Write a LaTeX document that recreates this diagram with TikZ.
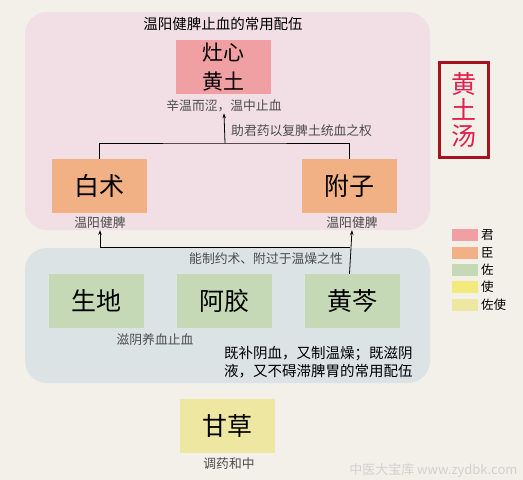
\documentclass[tikz,border=0pt]{standalone}
\usepackage{fontspec}
\setmainfont{Noto Sans CJK SC}
\usetikzlibrary{positioning,arrows.meta}

\definecolor{bgpaper}{HTML}{F3F0EA}
\definecolor{pinkzone}{HTML}{F1DFE5}
\definecolor{bluezone}{HTML}{DCE3E5}
\definecolor{junc}{HTML}{F09FA2}
\definecolor{chenc}{HTML}{F2B184}
\definecolor{zuoc}{HTML}{C6D9B6}
\definecolor{shic}{HTML}{F2EA7C}
\definecolor{zuoshic}{HTML}{EDE7A2}
\definecolor{framered}{HTML}{A5141E}
\definecolor{namered}{HTML}{E0204A}

\tikzset{
  herb/.style={minimum width=95pt, minimum height=54pt, inner sep=0pt, font=\fontsize{25}{27}\selectfont},
  note/.style={inner sep=1pt, text=black!70, font=\fontsize{12.8}{14}\selectfont},
  link/.style={line width=0.8pt},
  up/.style={link, -{Stealth[length=5pt,width=3.5pt]}},
  swatch/.style={minimum width=26pt, minimum height=12pt, inner sep=0pt},
}

\begin{document}
\begin{tikzpicture}[x=1pt,y=-1pt]
    \fill[bgpaper] (0,0) rectangle (523,480);
    \useasboundingbox (0,0) rectangle (523,480);

    % zones
    \fill[pinkzone, rounded corners=22pt] (25,12) rectangle (430,230);
    \fill[bluezone, rounded corners=22pt] (25,248) rectangle (430,383);

    \node[font=\fontsize{14.5}{16}\selectfont] (title) at (223,24) {温阳健脾止血的常用配伍};

    % jun
    \node[herb, fill=junc, align=center, font=\fontsize{21}{29}\selectfont] (zxht) at (223.5,67) {灶心\\黄土};
    \node[note] (zxnote) at (224,106) {辛温而涩，温中止血};

    % chen
    \node[herb, fill=chenc] (bz) at (99.5,186) {白术};
    \node[herb, fill=chenc] (fz) at (349.5,186) {附子};
    \node[note] (bznote) at (100,223) {温阳健脾};
    \node[note] (fznote) at (352,223) {温阳健脾};

    \coordinate (join) at (225,143);
    \draw[link] (bz.north) |- (join) -| (fz.north);
    \draw[up] (join) -- (zxnote.south);
    \node[note, anchor=west] (helpnote) at (230,131) {助君药以复脾土统血之权};

    % zuo
    \foreach \n/\x/\t in {sd/96/生地, aj/224.5/阿胶, hq/352.5/黄芩} {
        \node[herb, fill=zuoc] (\n) at (\x,301) {\t};
    }
    \node[note] (sdnote) at (155,340) {滋阴养血止血};
    \node[anchor=north west, align=left, inner sep=0pt, font=\fontsize{14.5}{18}\selectfont] (pairnote) at (224,346)
        {既补阴血，又制温燥；既滋阴\\液，又不碍滞脾胃的常用配伍};

    \coordinate (split) at (349.5,247);
    \draw[up] (fz |- hq.north) -- (fznote.south);
    \draw[up] (split) -| (bznote.south);
    \node[note, anchor=east] (curbnote) at (344,259) {能制约术、附过于温燥之性};

    % zuoshi
    \node[herb, fill=zuoshic] (gc) at (227.5,425.5) {甘草};
    \node[note] (gcnote) at (229,464) {调药和中};

    % name
    \node[draw=framered, line width=2.5pt, minimum width=49pt, minimum height=95pt, inner sep=0pt,
          align=center, text=namered, font=\fontsize{25}{26}\selectfont] (name) at (464,110) {黄\\土\\汤};

    % legend
    \foreach \c/\t [count=\i] in {junc/君, chenc/臣, zuoc/佐, shic/使, zuoshic/佐使} {
        \node[swatch, fill=\c] (sw\i) at (465,218+17.3*\i) {};
        \node[anchor=west, inner sep=0pt, font=\fontsize{12.5}{14}\selectfont] (lg\i) at (481,218+17.3*\i) {\t};
    }

    \node[anchor=east, text=black!18, font=\fontsize{13}{14}\selectfont] (mark) at (521,471) {中医大宝库 www.zydbk.com};
\end{tikzpicture}
\end{document}
